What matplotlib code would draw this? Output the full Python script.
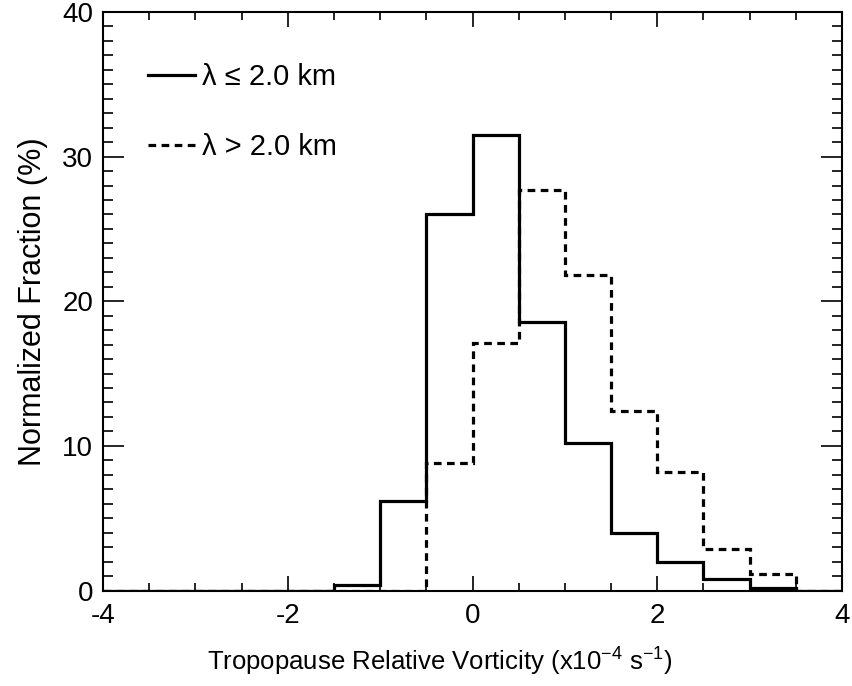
import numpy as np
import matplotlib
matplotlib.use("Agg")
import matplotlib.pyplot as plt
from matplotlib.ticker import MultipleLocator

plt.rcParams['font.family'] = ['Liberation Sans', 'DejaVu Sans']
plt.rcParams['axes.unicode_minus'] = False
plt.rcParams['mathtext.fontset'] = 'custom'
plt.rcParams['mathtext.rm'] = 'Liberation Sans'
plt.rcParams['mathtext.default'] = 'regular'

# Bin edges (x10^-4 s^-1)
bin_edges = [-4.0, -3.5, -3.0, -2.5, -2.0, -1.5, -1.0, -0.5, 0.0,
             0.5, 1.0, 1.5, 2.0, 2.5, 3.0, 3.5, 4.0]
# Normalized fraction (%)
frac_low = [0, 0, 0, 0, 0, 0.35, 6.2, 26.0, 31.5, 18.6, 10.2, 4.0, 2.0, 0.8, 0.15, 0]
frac_high = [0, 0, 0, 0, 0, 0, 0, 8.8, 17.1, 27.7, 21.8, 12.4, 8.2, 2.9, 1.15, 0]
labels = ['λ ≤ 2.0 km', 'λ > 2.0 km']

fig = plt.figure(figsize=(8.53, 6.86), dpi=100)
ax = fig.add_axes([0.1208, 0.1392, 0.8663, 0.8433])

ax.stairs(frac_low, bin_edges, baseline=None, color='black', lw=2.3,
          label=labels[0])
ax.stairs(frac_high, bin_edges, baseline=None, color='black', lw=2.3,
          linestyle=(0, (2.4, 1.7)), label=labels[1])

ax.set_xlim(-4, 4)
ax.set_ylim(0, 40)
ax.xaxis.set_major_locator(MultipleLocator(2))
ax.xaxis.set_minor_locator(MultipleLocator(0.5))
ax.yaxis.set_major_locator(MultipleLocator(10))
ax.yaxis.set_minor_locator(MultipleLocator(1))

ax.tick_params(axis='both', which='both', direction='in', top=True, right=True,
               labelsize=20, colors='black')
ax.tick_params(axis='x', which='major', length=11, width=1.2, pad=9)
ax.tick_params(axis='x', which='minor', length=6, width=1.2)
ax.tick_params(axis='y', which='major', length=15, width=1.2, pad=7)
ax.tick_params(axis='y', which='minor', length=7, width=1.2)
for s in ax.spines.values():
    s.set_linewidth(1.5)

ax.set_xlabel('Tropopause Relative Vorticity (x10$^{-4}$ s$^{-1}$)', fontsize=18.5,
              labelpad=6)
ax.xaxis.set_label_coords(0.456, -0.095)
ax.set_ylabel('Normalized Fraction (%)', fontsize=22, labelpad=10)

leg = ax.legend(loc='upper left', bbox_to_anchor=(0.061, 0.912), frameon=False,
                fontsize=21, handlelength=1.6, handletextpad=0.25,
                labelspacing=1.45, borderaxespad=0, borderpad=0)

fig.savefig('out.png', dpi=100)
